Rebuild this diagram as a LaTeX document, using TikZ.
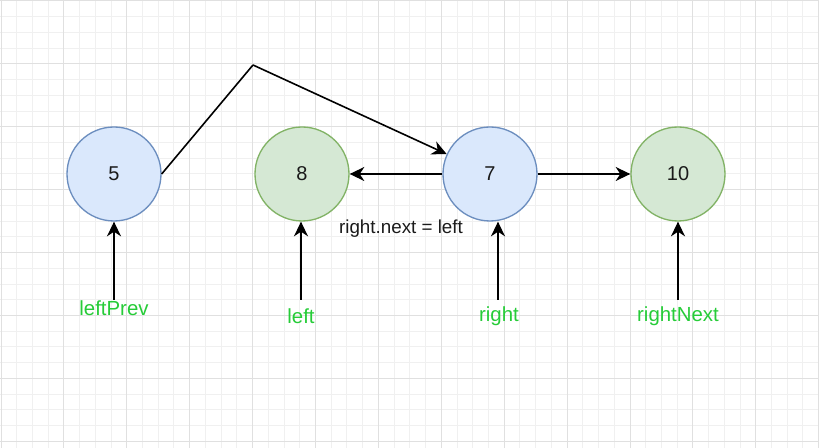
\documentclass[tikz,border=0pt]{standalone}
\usepackage{fontspec}
\setmainfont{Liberation Sans}
\usetikzlibrary{arrows.meta}
\definecolor{bfill}{HTML}{DAE8FC}
\definecolor{bline}{HTML}{6C8EBF}
\definecolor{gfill}{HTML}{D5E8D4}
\definecolor{gline}{HTML}{82B366}
\definecolor{lbl}{RGB}{38,204,56}
\definecolor{minorg}{HTML}{F0F0F0}
\definecolor{majorg}{HTML}{E0E0E0}
\definecolor{txt}{HTML}{1A1A1A}
\begin{document}
\begin{tikzpicture}[x=0.75pt,y=-0.75pt,
  bnode/.style={circle,draw=bline,fill=bfill,line width=1pt,minimum size=70.5pt,inner sep=0pt,text=txt,font=\fontsize{15}{17}\selectfont},
  gnode/.style={circle,draw=gline,fill=gfill,line width=1pt,minimum size=70.5pt,inner sep=0pt,text=txt,font=\fontsize{15}{17}\selectfont},
  glabel/.style={text=lbl,inner sep=0pt,font=\fontsize{15.3}{17}\selectfont},
  conn/.style={line width=1.2pt,-{Stealth[length=11pt,width=10.5pt,inset=3.5pt]}},
  plain/.style={line width=1.2pt}]
\useasboundingbox (0,0) rectangle (819,448);
\fill[white] (0,0) rectangle (819,448);
\foreach \i in {0,...,52} {
  \draw[minorg,line width=0.75pt] ({1+15.725*\i},0) -- ({1+15.725*\i},448);
}
\foreach \j in {0,...,28} {
  \draw[minorg,line width=0.75pt] (0,{1+15.725*\j}) -- (819,{1+15.725*\j});
}
\foreach \i in {0,...,13} {
  \draw[majorg,line width=0.75pt] ({1+62.9*\i},0) -- ({1+62.9*\i},448);
}
\foreach \j in {0,...,7} {
  \draw[majorg,line width=0.75pt] (0,{1+62.9*\j}) -- (819,{1+62.9*\j});
}

\node[bnode] (n5) at (114,174) {5};
\node[gnode] (n8) at (302,174) {8};
\node[bnode] (n7) at (490,174) {7};
\node[gnode] (n10) at (678,174) {10};

\coordinate (corner) at (253,65);
\draw[plain] (n5.east) -- (corner);
\draw[conn] (corner) -- (n7);
\draw[conn] (n7.west) -- (n8.east);
\draw[conn] (n7.east) -- (n10.west);

\node[inner sep=0pt,text=txt,font=\fontsize{14.1}{16}\selectfont] (lab) at (401,229) {right.next = left};

\node[glabel] (lp) at (114,308) {leftPrev};
\node[glabel] (lf) at (301,316) {left};
\node[glabel] (rt) at (499,316) {right};
\node[glabel] (rn) at (678,316) {rightNext};

\coordinate (lpa) at (114,300);
\coordinate (lfa) at (301,300);
\coordinate (rta) at (498,300);
\coordinate (rna) at (678,300);
\draw[conn] (lpa) -- (n5.south);
\draw[conn] (lfa) -- (lfa |- n8.south);
\draw[conn] (rta) -- (rta |- n7.south);
\draw[conn] (rna) -- (n10.south);
\end{tikzpicture}
\end{document}
